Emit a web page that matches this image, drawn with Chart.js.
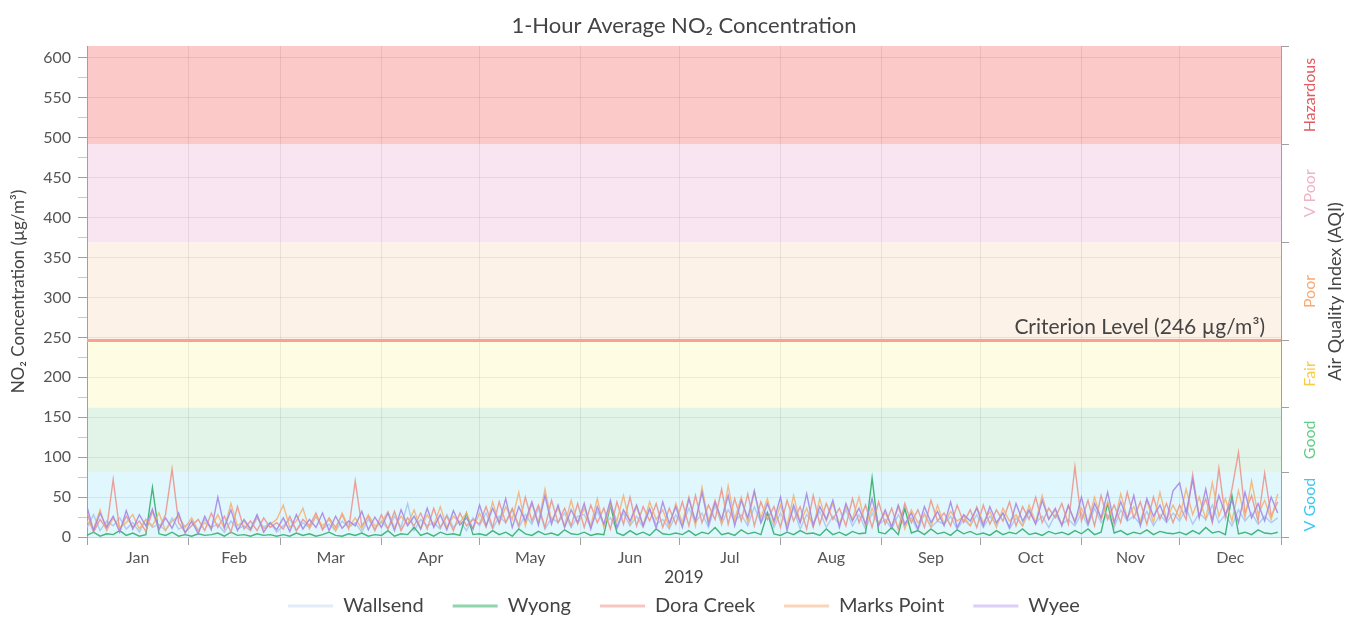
<!DOCTYPE html>
<html>
<head>
<meta charset="utf-8">
<script src="https://cdn.jsdelivr.net/npm/chart.js@4.4.1/dist/chart.umd.min.js"></script>
<style>
  html, body { margin: 0; padding: 0; background: #fff; }
  #wrap { position: relative; width: 1364px; height: 626px; }
</style>
</head>
<body>
<div id="wrap"><canvas id="no2Chart"></canvas></div>
<script>
const fonte = 'Lato, "Open Sans", sans-serif';
const corTexto = '#444444';
const corTick = '#555555';
const corGrade = 'rgba(0,0,0,0.07)';
const corEixo = '#a0a0a0';

// one reading every 2 days, starting 1 Jan 2019 (day 0)
const passoDias = 2;
const meses = ['Jan', 'Feb', 'Mar', 'Apr', 'May', 'Jun', 'Jul', 'Aug', 'Sep', 'Oct', 'Nov', 'Dec'];
const inicioMes = [0, 31, 59, 90, 120, 151, 181, 212, 243, 273, 304, 334, 365];
const meioMes = meses.map((m, i) => (inicioMes[i] + inicioMes[i + 1]) / 2);

// AQI scale (right axis) and the bands
const aqiLimites = [0, 33, 66, 100, 150, 200, 250];
const aqiNomes = ['V Good', 'Good', 'Fair', 'Poor', 'V Poor', 'Hazardous'];
const aqiFundo = ['#e0f7fd', '#e2f3e8', '#fefde3', '#fdf2e8', '#f8e5f1', '#fcc9c9'];
const aqiCorTexto = ['#3cc8f0', '#5fce86', '#f8cc45', '#f8aa70', '#eeb4c4', '#e05c60'];
const criterio = 246;

const estacoes = ['Wallsend', 'Wyong', 'Dora Creek', 'Marks Point', 'Wyee'];
const corLinha = ['rgba(165,195,240,0.85)', 'rgba(50,175,105,0.9)', 'rgba(235,145,135,0.85)', 'rgba(245,175,110,0.85)', 'rgba(165,135,228,0.9)'];
const corLegenda = ['#e3ebf9', '#8fd6ae', '#f6c7c1', '#f9d6ba', '#dccef4'];

const wallsend = [
  12, 28, 8, 20, 14, 24, 10, 18, 6, 22, 12, 16, 8, 24, 10, 14,
  18, 8, 22, 12, 16, 6, 20, 10, 14, 8, 24, 12, 18, 6,
  14, 22, 8, 18, 12, 26, 10, 16, 8, 20, 12, 18, 6, 22, 10,
  20, 10, 26, 12, 42, 8, 22, 14, 18, 10, 28, 12, 20, 8, 24,
  14, 30, 10, 26, 18, 34, 12, 28, 16, 36, 10, 24, 18, 30, 12, 26,
  28, 12, 32, 16, 24, 10, 30, 14, 26, 12, 34, 16, 22, 10, 28,
  14, 36, 18, 30, 12, 40, 16, 34, 20, 28, 14, 38, 18, 32, 12,
  30, 14, 36, 10, 28, 18, 32, 12, 26, 16, 34, 14, 28, 10, 30, 16,
  22, 10, 28, 14, 24, 8, 30, 12, 20, 16, 26, 10, 22, 14, 28,
  12, 26, 16, 30, 10, 24, 14, 32, 18, 26, 12, 28, 16, 22, 14,
  30, 14, 36, 18, 28, 12, 34, 20, 26, 16, 32, 14, 28, 18, 30,
  20, 36, 16, 30, 22, 40, 18, 28, 14, 34, 20, 30, 16, 26, 18, 24
];
const wyong = [
  2, 6, 1, 4, 3, 8, 2, 5, 1, 3, 62, 4, 2, 6, 1, 3,
  1, 4, 2, 3, 5, 1, 6, 2, 3, 1, 4, 2, 3, 1,
  3, 1, 5, 2, 4, 1, 3, 6, 2, 1, 4, 2, 5, 1, 3,
  2, 8, 1, 4, 3, 12, 2, 5, 1, 6, 3, 4, 2, 30, 3,
  4, 2, 8, 3, 6, 1, 10, 4, 2, 7, 3, 5, 2, 9, 4, 3,
  6, 2, 4, 3, 40, 5, 2, 8, 3, 6, 2, 10, 4, 3, 5,
  3, 8, 2, 6, 4, 12, 3, 5, 2, 9, 4, 6, 3, 30, 4,
  2, 6, 3, 8, 4, 5, 2, 10, 3, 6, 2, 7, 4, 5, 74, 6,
  4, 12, 3, 36, 5, 8, 3, 10, 4, 6, 2, 9, 4, 7, 3,
  5, 2, 8, 3, 6, 4, 10, 3, 5, 2, 7, 4, 6, 3, 8,
  4, 10, 3, 6, 42, 5, 8, 3, 6, 4, 9, 3, 7, 5, 4,
  6, 3, 8, 4, 12, 5, 7, 3, 52, 4, 6, 3, 9, 5, 4, 6
];
const doraCreek = [
  30, 6, 22, 10, 72, 8, 26, 12, 20, 7, 32, 10, 28, 85, 18, 6,
  14, 22, 8, 30, 12, 26, 6, 38, 10, 20, 8, 24, 12, 18,
  10, 26, 8, 22, 14, 30, 9, 24, 12, 28, 10, 70, 14, 26, 8,
  28, 10, 32, 8, 24, 14, 30, 10, 36, 12, 26, 8, 30, 14, 22,
  16, 38, 12, 44, 18, 36, 14, 50, 20, 40, 12, 46, 18, 36, 14, 42,
  12, 40, 18, 36, 10, 44, 16, 50, 14, 38, 20, 42, 12, 36, 16,
  44, 14, 52, 18, 40, 22, 60, 16, 48, 20, 54, 14, 44, 22, 38,
  12, 46, 20, 38, 10, 52, 16, 42, 22, 36, 14, 48, 18, 40, 12, 44,
  16, 36, 10, 42, 18, 34, 12, 46, 20, 30, 14, 40, 18, 34, 12,
  40, 16, 34, 20, 44, 14, 38, 22, 50, 18, 36, 24, 42, 16, 88,
  20, 46, 14, 52, 22, 40, 18, 56, 24, 44, 16, 50, 22, 42, 18,
  40, 22, 78, 26, 48, 18, 86, 24, 60, 106, 30, 52, 20, 80, 26, 44
];
const marksPoint = [
  20, 10, 34, 8, 24, 12, 18, 28, 10, 22, 14, 30, 8, 20, 26, 12,
  24, 8, 18, 12, 28, 10, 42, 14, 20, 8, 26, 10, 16, 22,
  40, 12, 20, 36, 10, 26, 14, 22, 8, 30, 12, 24, 10, 28, 14,
  18, 32, 12, 26, 16, 34, 10, 28, 14, 38, 12, 26, 18, 30, 10,
  30, 12, 44, 16, 38, 22, 56, 14, 42, 18, 60, 20, 36, 14, 46, 16,
  36, 14, 48, 12, 40, 20, 52, 16, 38, 14, 44, 22, 34, 12, 42,
  18, 50, 14, 62, 20, 46, 16, 64, 22, 50, 18, 56, 24, 48, 16,
  40, 14, 52, 18, 36, 12, 48, 20, 42, 16, 38, 22, 50, 14, 36, 18,
  30, 14, 38, 10, 34, 18, 28, 12, 40, 16, 32, 20, 26, 14, 38,
  18, 32, 12, 36, 20, 28, 14, 40, 18, 52, 22, 34, 16, 38, 20,
  36, 18, 50, 22, 44, 16, 54, 24, 38, 20, 46, 18, 56, 22, 40,
  24, 60, 28, 50, 22, 68, 26, 48, 20, 58, 24, 70, 28, 46, 22, 54
];
const wyee = [
  38, 8, 30, 12, 26, 6, 33, 10, 28, 14, 35, 9, 24, 11, 30, 5,
  20, 4, 26, 9, 50, 12, 34, 8, 22, 10, 28, 6, 18, 9,
  24, 7, 28, 10, 22, 12, 30, 8, 26, 11, 20, 14, 32, 9, 25,
  12, 30, 8, 34, 14, 26, 10, 36, 12, 28, 9, 33, 15, 24, 10,
  40, 14, 36, 18, 48, 12, 38, 20, 44, 15, 52, 16, 40, 12, 34, 18,
  42, 10, 38, 16, 46, 12, 34, 20, 40, 14, 36, 11, 44, 17, 38,
  12, 48, 20, 56, 16, 44, 22, 52, 14, 46, 24, 58, 18, 42, 20,
  50, 8, 40, 18, 54, 14, 38, 22, 46, 12, 42, 20, 36, 16, 48, 14,
  34, 12, 40, 16, 30, 10, 38, 18, 32, 14, 44, 12, 28, 20, 36,
  14, 38, 18, 30, 12, 42, 20, 34, 16, 46, 22, 36, 14, 40, 18,
  50, 16, 42, 24, 56, 18, 44, 22, 52, 14, 48, 26, 40, 20, 58,
  68, 30, 72, 24, 60, 20, 52, 28, 46, 18, 56, 24, 42, 20, 50, 30
];
const series = [wallsend, wyong, doraCreek, marksPoint, wyee];
// drawing order: Wyee on top, Wallsend at the back
const ordem = [5, 4, 3, 2, 1];

const pontos = arr => arr.map((v, i) => ({ x: i * passoDias, y: v }));

// bands, criterion line and the AQI labels on the right
const faixasAqi = {
  id: 'faixasAqi',
  beforeDraw(chart) {
    const { ctx, chartArea: a, scales: { y2 } } = chart;
    ctx.save();
    aqiNomes.forEach((n, i) => {
      const yTop = y2.getPixelForValue(aqiLimites[i + 1]);
      const yBot = y2.getPixelForValue(aqiLimites[i]);
      ctx.fillStyle = aqiFundo[i];
      ctx.fillRect(a.left, yTop, a.right - a.left, yBot - yTop);
    });
    ctx.restore();
  },
  afterDatasetsDraw(chart) {
    const { ctx, chartArea: a, scales: { y } } = chart;
    const yc = y.getPixelForValue(criterio);
    ctx.save();
    ctx.strokeStyle = '#f7a292';
    ctx.lineWidth = 3;
    ctx.beginPath();
    ctx.moveTo(a.left, yc);
    ctx.lineTo(a.right, yc);
    ctx.stroke();
    ctx.fillStyle = corTexto;
    ctx.font = '21px ' + fonte;
    ctx.textAlign = 'right';
    ctx.textBaseline = 'bottom';
    ctx.fillText('Criterion Level (246 µg/m³)', a.right - 16, yc - 3);
    ctx.restore();
  },
  afterDraw(chart) {
    const { ctx, chartArea: a, scales: { y2 } } = chart;
    ctx.save();
    ctx.textAlign = 'center';
    ctx.textBaseline = 'middle';
    aqiNomes.forEach((n, i) => {
      const ym = y2.getPixelForValue((aqiLimites[i] + aqiLimites[i + 1]) / 2);
      ctx.save();
      ctx.translate(a.right + 29, ym);
      ctx.rotate(-Math.PI / 2);
      ctx.fillStyle = aqiCorTexto[i];
      ctx.font = '16px ' + fonte;
      ctx.fillText(n, 0, 0);
      ctx.restore();
    });
    ctx.translate(a.right + 54, (a.top + a.bottom) / 2);
    ctx.rotate(-Math.PI / 2);
    ctx.fillStyle = corTexto;
    ctx.font = '18px ' + fonte;
    ctx.fillText('Air Quality Index (AQI)', 0, 0);
    ctx.restore();
  }
};

new Chart(document.getElementById('no2Chart'), {
  type: 'line',
  data: {
    datasets: estacoes.map((nome, i) => ({
      label: nome,
      data: pontos(series[i]),
      borderColor: corLinha[i],
      backgroundColor: corLegenda[i],
      borderWidth: 1.4,
      pointRadius: 0,
      fill: false,
      order: ordem[i]
    }))
  },
  options: {
    responsive: true,
    maintainAspectRatio: false,
    animation: false,
    layout: { padding: { left: 4, right: 0, top: 0, bottom: 0 } },
    plugins: {
      tooltip: { enabled: false },
      title: {
        display: true,
        text: '1-Hour Average NO₂ Concentration',
        color: corTexto,
        font: { family: fonte, size: 22, weight: 'normal' },
        padding: { top: 13, bottom: 6.6 }
      },
      legend: {
        position: 'bottom',
        labels: {
          color: corTexto,
          font: { family: fonte, size: 20 },
          boxWidth: 45,
          boxHeight: 3,
          padding: 29,
          sort: (a, b) => a.datasetIndex - b.datasetIndex,
          generateLabels: chart => Chart.defaults.plugins.legend.labels.generateLabels(chart).map(l => ({
            ...l, fillStyle: corLegenda[l.datasetIndex], strokeStyle: corLegenda[l.datasetIndex], lineWidth: 0
          }))
        }
      }
    },
    scales: {
      x: {
        type: 'linear',
        min: 0,
        max: 365,
        afterBuildTicks: s => {
          s.ticks = inicioMes.concat(meioMes).sort((p, q) => p - q).map(v => ({ value: v }));
        },
        afterFit: s => { s.height = 30; },
        ticks: {
          autoSkip: false,
          maxRotation: 0,
          padding: 3,
          color: corTick,
          font: { family: fonte, size: 16 },
          callback: v => {
            const i = meioMes.indexOf(v);
            return i >= 0 ? meses[i] : '';
          }
        },
        grid: {
          color: c => inicioMes.includes(c.tick.value) ? corGrade : 'transparent',
          tickColor: c => inicioMes.includes(c.tick.value) ? corEixo : 'transparent',
          tickLength: 8
        },
        border: { color: 'rgba(0,0,0,0.12)' },
        title: {
          display: true,
          text: '2019',
          color: corTexto,
          font: { family: fonte, size: 17 },
          padding: { top: 0, bottom: -21 }
        }
      },
      y: {
        min: 0,
        max: 615,
        afterBuildTicks: s => {
          const t = [];
          for (let v = 0; v <= 600; v += 25) t.push({ value: v });
          s.ticks = t;
        },
        afterFit: s => { s.width = 83; },
        ticks: {
          autoSkip: false,
          padding: 7,
          color: corTick,
          font: { family: fonte, size: 16 },
          callback: v => (v % 50 === 0 ? v : '')
        },
        grid: {
          color: c => (c.tick.value % 50 === 0 ? corGrade : 'transparent'),
          tickColor: c => (c.tick.value % 50 === 0 ? corEixo : '#c8c8c8'),
          tickLength: 9
        },
        border: { color: corEixo },
        title: {
          display: true,
          text: 'NO₂ Concentration (µg/m³)',
          color: corTexto,
          font: { family: fonte, size: 17 },
          padding: { top: 4, bottom: 4 }
        }
      },
      y2: {
        position: 'right',
        min: 0,
        max: 250,
        afterBuildTicks: s => { s.ticks = aqiLimites.map(v => ({ value: v })); },
        afterFit: s => { s.width = 83; },
        ticks: { callback: () => '' },
        grid: { drawOnChartArea: false, tickColor: corEixo, tickLength: 8 },
        border: { color: corEixo }
      }
    }
  },
  plugins: [faixasAqi]
});
</script>
</body>
</html>
